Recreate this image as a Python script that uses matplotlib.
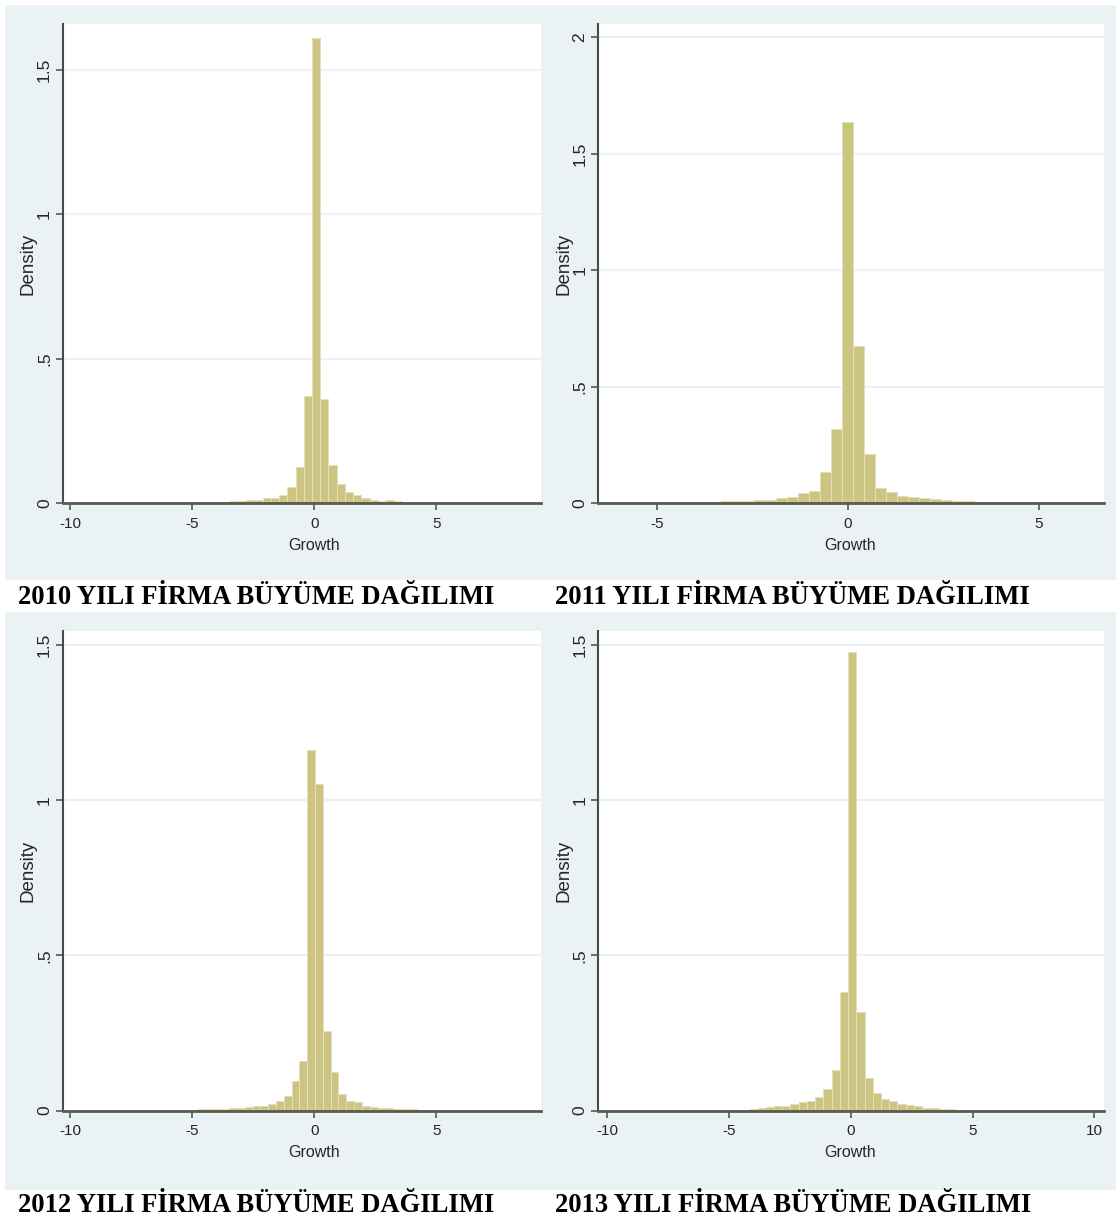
import numpy as np
import matplotlib
matplotlib.use("Agg")
import matplotlib.pyplot as plt
from matplotlib.patches import Rectangle

# ---------------- data (histogram densities) ----------------
years = ["2010", "2011", "2012", "2013"]
captions = [f"{y} YILI FİRMA BÜYÜME DAĞILIMI" for y in years]

# 2010: bins of width 0.337 starting at -10.204
bin_start_2010 = -10.204
bin_width_2010 = 0.337
density_2010 = [
    0.001, 0.001, 0.001, 0.001, 0.001, 0.001, 0.001, 0.001, 0.002, 0.002, 0.002, 0.002,
    0.002, 0.002, 0.003, 0.003, 0.003, 0.003,
    0.004, 0.005, 0.007, 0.008, 0.010, 0.012, 0.016, 0.019, 0.026, 0.055, 0.123, 0.370,
    1.610,
    0.360, 0.133, 0.066, 0.039, 0.027, 0.019, 0.012, 0.008, 0.011, 0.006, 0.004, 0.003,
    0.003, 0.002, 0.002, 0.002, 0.002, 0.001, 0.001, 0.001, 0.001, 0.001, 0.001, 0.001,
    0.001, 0.001,
]

# 2011: bins of width 0.288 starting at -6.483
bin_start_2011 = -6.483
bin_width_2011 = 0.288
density_2011 = [
    0.001, 0.001, 0.001, 0.002, 0.002, 0.002, 0.003, 0.003,
    0.004, 0.006, 0.005, 0.007, 0.008, 0.010, 0.011, 0.014, 0.022, 0.025, 0.043, 0.053,
    0.134, 0.319,
    1.635,
    0.675, 0.210, 0.063, 0.046, 0.031, 0.026, 0.021, 0.017, 0.013, 0.010, 0.009, 0.006,
    0.005, 0.004,
    0.003, 0.003, 0.002, 0.002, 0.002, 0.001, 0.001, 0.001,
]

# 2012: bins of width 0.320 starting at -10.21
bin_start_2012 = -10.21
bin_width_2012 = 0.320
density_2012 = [
    0.001, 0.001, 0.001, 0.001, 0.001, 0.001, 0.001, 0.001, 0.001, 0.002, 0.002, 0.002, 0.002,
    0.002, 0.003, 0.003, 0.003, 0.004, 0.004,
    0.005, 0.006, 0.007, 0.008, 0.010, 0.013, 0.015, 0.020, 0.029, 0.048, 0.095, 0.161,
    1.160, 1.052,
    0.255, 0.124, 0.053, 0.030, 0.027, 0.016, 0.010, 0.008, 0.007, 0.006, 0.005, 0.004,
    0.003, 0.003, 0.003, 0.002, 0.002, 0.002, 0.002, 0.001, 0.001, 0.001, 0.001, 0.001,
    0.001, 0.001,
]

# 2013: bins of width 0.338 starting at -9.912
bin_start_2013 = -9.912
bin_width_2013 = 0.338
density_2013 = [
    0.001, 0.001, 0.001, 0.001, 0.001, 0.001, 0.001, 0.001,
    0.002, 0.002, 0.002, 0.002, 0.002, 0.003, 0.003, 0.003,
    0.003, 0.005, 0.007, 0.010, 0.013, 0.016, 0.022, 0.027, 0.032, 0.042, 0.069, 0.132, 0.380,
    1.475,
    0.316, 0.106, 0.057, 0.038, 0.029, 0.022, 0.017, 0.013, 0.009, 0.007, 0.005, 0.004,
    0.003, 0.003, 0.002, 0.002, 0.002, 0.002, 0.001, 0.001, 0.001, 0.001,
    0.0005, 0.0005, 0.0005, 0.0005, 0.0005, 0.0005, 0.0005,
]

x_ticks = [
    [-10, -5, 0, 5],
    [-5, 0, 5],
    [-10, -5, 0, 5],
    [-10, -5, 0, 5, 10],
]
y_ticks = [
    [0, 0.5, 1, 1.5],
    [0, 0.5, 1, 1.5, 2],
    [0, 0.5, 1, 1.5],
    [0, 0.5, 1, 1.5],
]
y_ticklabels = [
    ["0", ".5", "1", "1.5"],
    ["0", ".5", "1", "1.5", "2"],
    ["0", ".5", "1", "1.5"],
    ["0", ".5", "1", "1.5"],
]
x_ticklabels = [[str(t) for t in tl] for tl in x_ticks]

# ---------------- style / layout ----------------
W, H = 1116, 1223
BG = "#EAF2F3"
BAR = "#CBC482"
BAR_EDGE = "#E4DFB6"
AXC = "#4a4a4a"
TXT = "#262626"
SANS = ["Liberation Sans", "DejaVu Sans"]

fig = plt.figure(figsize=(W / 100, H / 100), dpi=100)
fig.patch.set_facecolor("white")


def px_rect(x0, y0, x1, y1):
    return [x0 / W, 1 - y1 / H, (x1 - x0) / W, (y1 - y0) / H]


# gray graph regions
for (gx0, gy0, gx1, gy1) in [(5, 5, 548, 580), (548, 5, 1116, 580),
                             (5, 612, 548, 1190), (548, 612, 1116, 1190)]:
    fig.patches.append(Rectangle((gx0 / W, 1 - gy1 / H), (gx1 - gx0) / W,
                                 (gy1 - gy0) / H, transform=fig.transFigure,
                                 facecolor=BG, edgecolor="none", zorder=-10))

axes_px = [
    (62.5, 24, 541, 503),
    (598, 24, 1104, 503),
    (62.5, 631, 541, 1110.5),
    (598, 631, 1104, 1110.5),
]
xlims = [(-10.32, 9.29), (-6.54, 6.70), (-10.32, 9.29), (-10.38, 10.4)]
ylims = [(0, 1.658), (0, 2.057), (0, 1.544), (0, 1.544)]
growth_x = [314, 850, 314, 850]   # pixel centre of the "Growth" title
density_x = [28, 564, 28, 564]    # pixel centre of the "Density" title

series = [
    (bin_start_2010, bin_width_2010, density_2010),
    (bin_start_2011, bin_width_2011, density_2011),
    (bin_start_2012, bin_width_2012, density_2012),
    (bin_start_2013, bin_width_2013, density_2013),
]

for i, (start, width, dens) in enumerate(series):
    x0, y0, x1, y1 = axes_px[i]
    ax = fig.add_axes(px_rect(x0, y0, x1, y1))
    ax.set_zorder(5)
    ax.set_facecolor("white")
    lefts = start + width * np.arange(len(dens))
    ax.bar(lefts, dens, width=width, align="edge", color=BAR,
           edgecolor=BAR_EDGE, linewidth=0.7, zorder=2)
    ax.set_xlim(*xlims[i])
    ax.set_ylim(*ylims[i])
    ax.set_xticks(x_ticks[i])
    ax.set_xticklabels(x_ticklabels[i], fontsize=11, color=TXT, family=SANS)
    ax.set_yticks(y_ticks[i])
    ax.set_yticklabels(y_ticklabels[i], fontsize=12.5, color=TXT, rotation=90,
                       va="center", family=SANS)
    for yv in y_ticks[i][1:]:
        ax.axhline(yv, color=BG, linewidth=1.6, zorder=1)
    for s in ["top", "right"]:
        ax.spines[s].set_visible(False)
    ax.spines["left"].set_color(AXC)
    ax.spines["left"].set_linewidth(1.5)
    ax.spines["bottom"].set_color("#5a5a50")
    ax.spines["bottom"].set_linewidth(2.0)
    for s in ["left", "bottom"]:
        ax.spines[s].set_zorder(3)
    ax.tick_params(axis="both", direction="out", length=5, width=1.1,
                   color=AXC)
    ax.tick_params(axis="x", pad=5)
    ax.tick_params(axis="y", pad=2.5)
    ax.set_xlabel("Growth", fontsize=11.5, color=TXT, family=SANS)
    ax.xaxis.set_label_coords((growth_x[i] - x0) / (x1 - x0), -42.0 / (y1 - y0))
    ax.xaxis.label.set_va("center")
    ax.set_ylabel("Density", fontsize=13.5, color=TXT, family=SANS)
    ax.yaxis.set_label_coords((density_x[i] - x0) / (x1 - x0), 0.5)
    ax.yaxis.label.set_va("center")

# captions
cap_pos = [(18, 598), (555, 598), (18, 1205), (555, 1205)]
for cap, (cx, cy) in zip(captions, cap_pos):
    fig.text(cx / W, 1 - cy / H, cap, ha="left", va="center", fontsize=19.2,
             fontweight="bold", family=["Liberation Serif", "DejaVu Serif"],
             color="black")

fig.savefig("out.png", dpi=100)
